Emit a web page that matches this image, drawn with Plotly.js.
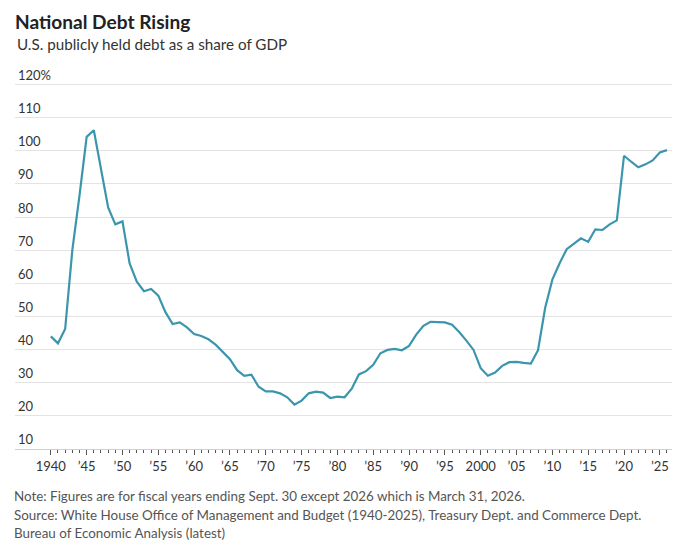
<!DOCTYPE html>
<html>
<head>
<meta charset="utf-8">
<script src="https://cdn.plot.ly/plotly-3.0.1.min.js"></script>
<style>html,body{margin:0;padding:0;background:#fff;}#chart{width:680px;height:554px;}</style>
</head>
<body>
<div id="chart"></div>
<script>
// Fiscal years
const years = [
  1940,1941,1942,1943,1944,1945,1946,1947,1948,1949,
  1950,1951,1952,1953,1954,1955,1956,1957,1958,1959,
  1960,1961,1962,1963,1964,1965,1966,1967,1968,1969,
  1970,1971,1972,1973,1974,1975,1976,1977,1978,1979,
  1980,1981,1982,1983,1984,1985,1986,1987,1988,1989,
  1990,1991,1992,1993,1994,1995,1996,1997,1998,1999,
  2000,2001,2002,2003,2004,2005,2006,2007,2008,2009,
  2010,2011,2012,2013,2014,2015,2016,2017,2018,2019,
  2020,2021,2022,2023,2024,2025,2026
];
// Debt held by the public, % of GDP
const debtPct = [
  44.0,41.9,46.2,70.0,86.5,104.2,106.2,94.2,82.9,77.8,
  78.7,66.0,60.5,57.6,58.3,56.3,51.3,47.7,48.2,46.7,
  44.7,44.1,43.1,41.5,39.3,37.1,33.8,32.1,32.4,28.8,
  27.4,27.4,26.8,25.6,23.4,24.6,26.8,27.3,27.0,25.4,
  25.8,25.6,28.2,32.5,33.5,35.4,38.9,39.9,40.2,39.8,
  41.1,44.5,47.2,48.4,48.3,48.2,47.5,45.3,42.7,39.9,
  34.4,32.1,33.1,35.1,36.2,36.3,36.0,35.8,39.8,52.6,
  61.1,66.0,70.3,72.0,73.6,72.5,76.3,76.1,77.8,79.0,
  98.5,96.7,95.0,95.9,97.1,99.5,100.2
];
const xTickVals = [1940,1945,1950,1955,1960,1965,1970,1975,1980,1985,1990,1995,2000,2005,2010,2015,2020,2025];
const xTickText = ['1940','\u201945','\u201950','\u201955','\u201960','\u201965','\u201970','\u201975','\u201980','\u201985','\u201990','\u201995','2000','\u201905','\u201910','\u201915','\u201920','\u201925'];
const yTickVals = [10,20,30,40,50,60,70,80,90,100,110,120];
const yTickText = ['10','20','30','40','50','60','70','80','90','100','110','120%'];

const titleText = 'National Debt Rising';
const subtitleText = 'U.S. publicly held debt as a share of GDP';
const noteLines = [
  'Note: Figures are for fiscal years ending Sept. 30 except 2026 which is March 31, 2026.',
  'Source: White House Office of Management and Budget (1940-2025), Treasury Dept. and Commerce Dept.',
  'Bureau of Economic Analysis (latest)'
];

const FONT = 'Lato, "Noto Sans", sans-serif';
const plotTop = 70, plotBottom = 449, plotH = plotBottom - plotTop;
function py(p){ return (plotBottom - p) / plotH; }

const trace = {
  x: years, y: debtPct, type: 'scatter', mode: 'lines',
  line: {color: '#3b96ad', width: 2.2},
  hoverinfo: 'x+y'
};

const notePos = [496, 515, 533];
const annotations = [{
  text: subtitleText, xref: 'paper', yref: 'paper', x: 0, y: py(44),
  xanchor: 'left', yanchor: 'middle', showarrow: false,
  font: {family: FONT, size: 15.2, color: '#333'}
}];
noteLines.forEach((t, i) => annotations.push({
  text: t, xref: 'paper', yref: 'paper', x: -0.004, y: py(notePos[i]),
  xanchor: 'left', yanchor: 'middle', showarrow: false,
  font: {family: FONT, size: 13.4, color: '#555'}
}));

const layout = {
  width: 680, height: 554,
  margin: {l: 15, r: 8, t: plotTop, b: 554 - plotBottom, pad: 0},
  paper_bgcolor: '#fff', plot_bgcolor: '#fff',
  showlegend: false,
  title: {
    text: titleText, xref: 'container', yref: 'container',
    x: 15/680, y: 1 - 22/554, xanchor: 'left', yanchor: 'middle',
    pad: {t: 0, b: 0, l: 0, r: 0},
    font: {family: FONT, size: 19.1, weight: 700, color: '#222'}
  },
  xaxis: {
    range: [1935, 2026.7], tickmode: 'array', tickvals: xTickVals, ticktext: xTickText,
    ticks: 'outside', ticklen: 5, tickwidth: 1, tickcolor: '#555',
    minor: {tickmode: 'array', tickvals: years, ticks: 'outside', ticklen: 3, tickwidth: 1, tickcolor: '#555', showgrid: false},
    showgrid: false, zeroline: false, showline: true, linecolor: '#cfcfcf', linewidth: 1,
    tickfont: {family: FONT, size: 13, color: '#333'}, fixedrange: true
  },
  yaxis: {
    range: [10, 124.38], tickmode: 'array', tickvals: yTickVals, ticktext: yTickText,
    ticklabelposition: 'inside top', ticklabeloverflow: 'allow', ticks: '',
    showgrid: true, gridcolor: '#e3e3e3', gridwidth: 1, zeroline: false, showline: false,
    tickfont: {family: FONT, size: 13, color: '#333'}, fixedrange: true
  },
  annotations: annotations
};

Plotly.newPlot('chart', [trace], layout, {displayModeBar: false, staticPlot: true});
</script>
</body>
</html>
